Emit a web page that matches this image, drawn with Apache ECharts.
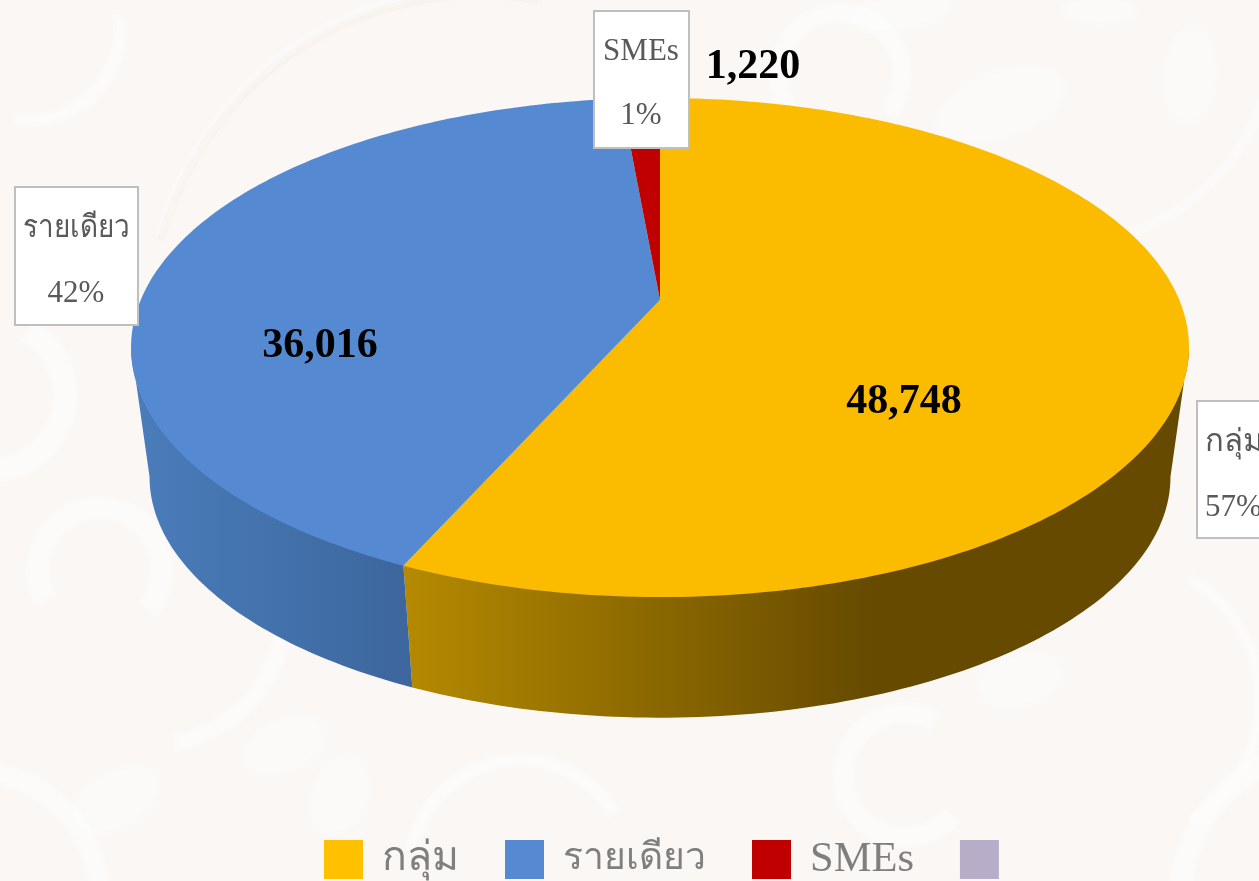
<!DOCTYPE html>
<html>
<head>
<meta charset="utf-8">
<title>chart</title>
<style>
html,body{margin:0;padding:0;background:#FAF7F4;overflow:hidden}
#main{width:1259px;height:881px}
</style>
<script src="https://cdn.jsdelivr.net/npm/echarts@6/dist/echarts.min.js"></script>
</head>
<body>
<div id="main"></div>
<script>
const categories=['กลุ่ม','รายเดียว','SMEs']
const seriesValues=[48748,36016,1220]
const emptyLegendName=' '  //the source legend has a fourth swatch with no text

const colors=['#FBBC00','#558AD3','#C00000']
const legendColors=['#FFC000','#558AD3','#C00000','#B7ADC9']
//the source font is narrower for thai, so sizes differ per legend entry
const legendFontSizes=[41,37.2,42.5]
//wall gradient, left to right
const wallStops=[
    [[0,'#B58A00'],[0.6,'#654A00'],[1,'#654A00']],
    [[0,'#4A7DBB'],[1,'#3C669C']],
    [[0,'#8F0000'],[1,'#8F0000']]
]
//label layout: box [x,y,w,h], two text rows, bold value
const labelLayout=[
    {box:[1197,401,120,137],textX:1205,align:'left',rows:[443,508],value:[904,402],nameScale:1},
    {box:[15,187,123,138],textX:76,align:'center',rows:[229,294],value:[320,346],nameScale:0.9},
    {box:[594,11,95,137],textX:641,align:'center',rows:[52,116],value:[753,67],nameScale:1}
]
//background ornament: cx,cy,r,start deg,end deg,width,colour
const white='rgba(255,255,255,0.38)'
const tan='rgba(240,232,224,0.22)'
const ornamentArcs=[
    [100,570,62,150,400,24,white],
    [150,610,135,-70,80,18,white],
    [-30,900,130,-95,10,22,white],
    [-10,395,75,-60,200,26,white],
    [840,75,62,120,400,20,white],
    [905,775,62,40,300,22,white],
    [480,320,330,195,280,10,white],
    [480,325,330,195,280,8,tan],
    [1060,30,215,0,85,10,white],
    [1120,700,140,-60,60,12,white],
    [1330,900,150,170,270,24,white],
    [30,30,90,-10,100,14,white],
    [520,870,110,190,330,14,white]
]
//leaf blobs: x,y,rx,ry,rotation deg
const ornamentLeaves=[
    [285,745,45,28,-25],
    [115,800,50,30,-30],
    [340,795,30,42,20],
    [1190,75,28,50,5],
    [1000,105,70,35,-20],
    [1020,680,45,28,-15],
    [900,12,55,20,-10],
    [1100,10,40,16,0]
]

//perspective disc, top surface
const cx=660, apexY=300, a=519.3, b=240.5, k=0.1904
//bottom surface of the disc
const wallScale=0.965, bottomY=431
const total=seriesValues.reduce((s,v)=>s+v,0)

function project(deg,scale,y0){
    const t=deg*Math.PI/180
    const u=Math.sin(t), v=-Math.cos(t)
    const d=1-k*v
    return [cx+scale*a*u/d, y0+scale*b*v/d]
}
function arcPoints(from,to,scale,y0){
    const pts=[]
    const n=Math.max(2,Math.ceil(Math.abs(to-from)))
    for(let i=0;i<=n;i++){
        pts.push(project(from+(to-from)*i/n,scale,y0))
    }
    return pts
}
//front half of the rim is where v>=k
const frontFrom=90+Math.asin(k)*180/Math.PI
const frontTo=360-frontFrom

function renderSlice(index){
    return function(params,api){
        const value=api.value(0)
        const before=seriesValues.slice(0,index).reduce((s,v)=>s+v,0)
        const start=before/total*360
        const end=start+value/total*360
        const children=[]
        //side wall, runs 1px under the top face so no seam shows
        const wFrom=Math.max(start,frontFrom), wTo=Math.min(end,frontTo)
        if(wTo>wFrom){
            const topArc=arcPoints(wFrom,wTo,1,apexY-1)
            const botArc=arcPoints(wTo,wFrom,wallScale,bottomY)
            const xs=topArc.concat(botArc).map(p=>p[0])
            const minX=Math.min(...xs), maxX=Math.max(...xs)
            children.push({
                type:'polygon',
                shape:{points:topArc.concat(botArc)},
                style:{
                    fill:new echarts.graphic.LinearGradient(minX,0,maxX,0,
                        wallStops[index].map(s=>({offset:s[0],color:s[1]})),true)
                }
            })
        }
        //top face
        children.push({
            type:'polygon',
            shape:{points:[[cx,apexY]].concat(arcPoints(start,end,1,apexY))},
            style:{fill:colors[index]}
        })
        //callout
        const l=labelLayout[index]
        children.push({
            type:'rect',
            shape:{x:l.box[0],y:l.box[1],width:l.box[2],height:l.box[3]},
            style:{fill:'#fff',stroke:'#BFBFBF',lineWidth:2}
        })
        const textFont='31px "Liberation Serif","Noto Sans CJK SC",serif'
        children.push({
            type:'text',
            scaleX:l.nameScale,
            originX:l.textX,
            originY:l.rows[0],
            style:{text:categories[index],x:l.textX,y:l.rows[0],font:textFont,fill:'#595959',align:l.align,verticalAlign:'middle'}
        })
        children.push({
            type:'text',
            style:{text:Math.round(value/total*100)+'%',x:l.textX,y:l.rows[1],font:textFont,fill:'#595959',align:l.align,verticalAlign:'middle'}
        })
        children.push({
            type:'text',
            style:{text:value.toLocaleString('en-US'),x:l.value[0],y:l.value[1],font:'bold 42px "Liberation Serif",serif',fill:'#000',align:'center',verticalAlign:'middle'}
        })
        return {type:'group',children:children}
    }
}

const chart=echarts.init(document.getElementById('main'),null,{renderer:'canvas'})

const series=categories.map((name,i)=>({
    type:'custom',
    name:name,
    coordinateSystem:'none',
    silent:true,
    animation:false,
    itemStyle:{color:legendColors[i]},
    renderItem:renderSlice(i),
    data:[[seriesValues[i]]]
}))
series.push({
    type:'custom',
    name:emptyLegendName,
    coordinateSystem:'none',
    silent:true,
    animation:false,
    itemStyle:{color:legendColors[3]},
    renderItem:()=>null,
    data:[]
})

const legendRich={}
legendFontSizes.forEach((size,i)=>{
    legendRich['s'+i]={color:'#7F7F7F',fontSize:size,fontFamily:'"Liberation Serif",serif'}
})

const ornaments=[]
ornamentLeaves.forEach(l=>{
    //leaf blob, a soft ellipse
    const pts=[]
    const r=l[4]*Math.PI/180
    for(let i=0;i<24;i++){
        const t=i/24*Math.PI*2
        const px=l[2]*Math.cos(t), py=l[3]*Math.sin(t)
        pts.push([l[0]+px*Math.cos(r)-py*Math.sin(r), l[1]+px*Math.sin(r)+py*Math.cos(r)])
    }
    ornaments.push({
        type:'polygon',
        silent:true,
        shape:{points:pts},
        style:{fill:'rgba(255,255,255,0.3)',shadowBlur:12,shadowColor:'rgba(255,255,255,0.5)'}
    })
})
ornamentArcs.forEach(o=>{
    ornaments.push({
        type:'arc',
        silent:true,
        shape:{cx:o[0],cy:o[1],r:o[2],startAngle:o[3]*Math.PI/180,endAngle:o[4]*Math.PI/180},
        style:{fill:null,stroke:o[6],lineWidth:o[5],shadowBlur:10,shadowColor:o[6]}
    })
})

chart.setOption({
    backgroundColor:'#FAF7F4',
    animation:false,
    graphic:{elements:ornaments},
    legend:{
        left:324,
        top:838,
        padding:0,
        itemWidth:39,
        itemHeight:39,
        itemGap:46,
        icon:'rect',
        selectedMode:false,
        formatter:function(name){
            const i=categories.indexOf(name)
            return i<0?name:'{s'+i+'|'+name+'}'
        },
        textStyle:{
            color:'#7F7F7F',
            fontSize:40,
            fontFamily:'"Liberation Serif",serif',
            padding:[0,0,0,14],
            rich:legendRich
        },
        data:categories.concat(emptyLegendName)
    },
    series:series
})
</script>
</body>
</html>
